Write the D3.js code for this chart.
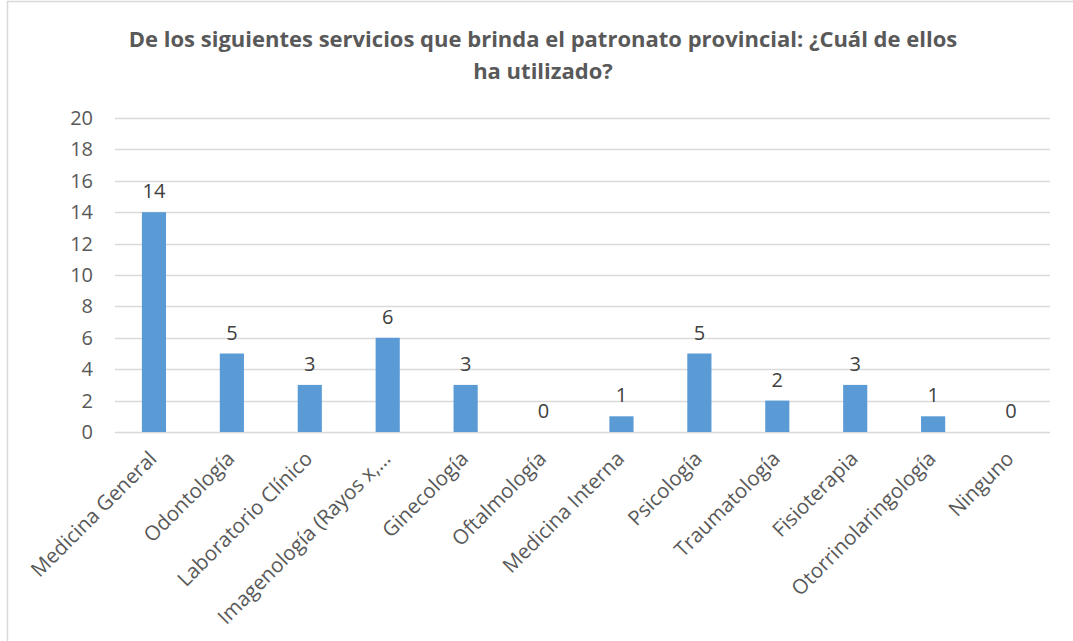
<!DOCTYPE html>
<html>
<head>
<meta charset="utf-8">
<script src="https://cdn.jsdelivr.net/npm/d3@7"></script>
<style>
  html, body { margin: 0; padding: 0; background: #fff; }
  svg { display: block; }
</style>
</head>
<body>
<script>
// Servicios del patronato provincial y número de personas que los han utilizado
const categories = [
  "Medicina General", "Odontología", "Laboratorio Clínico", "Imagenología (Rayos x,…",
  "Ginecología", "Oftalmología", "Medicina Interna", "Psicología",
  "Traumatología", "Fisioterapia", "Otorrinolaringología", "Ninguno"
];
const values = [14, 5, 3, 6, 3, 0, 1, 5, 2, 3, 1, 0];
const yTicks = [0, 2, 4, 6, 8, 10, 12, 14, 16, 18, 20];
const titleLines = [
  "De los siguientes servicios que brinda el patronato provincial: ¿Cuál de ellos",
  "ha utilizado?"
];

const W = 1073, H = 641;
const font = "'Open Sans', sans-serif";
const plot = { left: 115, right: 1050, top: 118, bottom: 432 };

const svg = d3.select("body").append("svg")
  .attr("width", W).attr("height", H);

// chart frame
svg.append("rect")
  .attr("x", 7.5).attr("y", 1.5)
  .attr("width", W + 10).attr("height", H + 10)
  .attr("fill", "#fff").attr("stroke", "#d9d9d9").attr("stroke-width", 1.5);

// title
svg.append("g").selectAll("text").data(titleLines).join("text")
  .attr("x", 543).attr("y", (d, i) => 47 + i * 32)
  .attr("text-anchor", "middle")
  .attr("font-family", font).attr("font-size", 22).attr("font-weight", "bold")
  .attr("fill", "#595959")
  .text(d => d);

const x = d3.scaleBand().domain(categories).range([plot.left, plot.right]).padding(0);
const y = d3.scaleLinear().domain([0, 20]).range([plot.bottom, plot.top]);
const barW = x.bandwidth() * 0.31;

// gridlines
svg.append("g").selectAll("line").data(yTicks).join("line")
  .attr("x1", plot.left).attr("x2", plot.right)
  .attr("y1", d => Math.round(y(d)) + 0.5).attr("y2", d => Math.round(y(d)) + 0.5)
  .attr("stroke", "#d9d9d9").attr("stroke-width", 1.3);

// y axis labels
const yAxis = svg.append("g")
  .attr("transform", `translate(${plot.left - 22},0)`)
  .call(d3.axisLeft(y).tickValues(yTicks).tickSize(0).tickPadding(0));
yAxis.select(".domain").remove();
yAxis.selectAll("text")
  .attr("font-family", font).attr("font-size", 20).attr("fill", "#595959");

// bars
svg.append("g").selectAll("rect").data(values).join("rect")
  .attr("x", (d, i) => x(categories[i]) + x.bandwidth() / 2 - barW / 2)
  .attr("width", barW)
  .attr("y", d => y(d))
  .attr("height", d => y(0) - y(d))
  .attr("fill", "#5b9bd5");

// value labels
svg.append("g").selectAll("text").data(values).join("text")
  .attr("x", (d, i) => x(categories[i]) + x.bandwidth() / 2)
  .attr("y", d => y(d) - 14)
  .attr("text-anchor", "middle")
  .attr("font-family", font).attr("font-size", 20).attr("fill", "#404040")
  .text(d => d);

// category axis
const xAxis = svg.append("g")
  .attr("transform", `translate(0,${plot.bottom})`)
  .call(d3.axisBottom(x).tickSize(0).tickPadding(0));
xAxis.select(".domain").remove();
xAxis.selectAll("text")
  .attr("font-family", font).attr("font-size", 20.5).attr("fill", "#595959")
  .attr("text-anchor", "end")
  .attr("dy", null)
  .attr("transform", "translate(4,28) rotate(-45)");
</script>
</body>
</html>
